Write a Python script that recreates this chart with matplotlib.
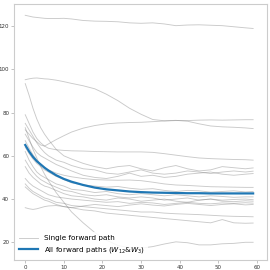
import numpy as np
import matplotlib
matplotlib.use("Agg")
import matplotlib.pyplot as plt

steps = [0, 1, 2, 3, 4, 5, 6, 8, 10, 12, 15, 18, 21, 24, 27, 30, 33, 36, 39, 42, 45, 48, 51, 54, 57, 59]

single_paths = [
    [125, 124.6, 124.2, 124, 123.8, 123.6, 123.5, 123.5, 123.6, 123.3, 122.6, 122.3, 122.2, 122, 121.5, 121.3, 121.5, 121, 120.2, 120.5, 120.6, 120.4, 120.2, 119.7, 119.2, 118.9],
    [95.2, 95.6, 95.9, 96, 95.8, 95.6, 95.5, 95, 94.3, 93.5, 92.4, 91, 88.5, 85.5, 82, 79.2, 76.8, 76.2, 76.4, 76, 74.8, 73.8, 73.4, 73.2, 72.9, 72.6],
    [72, 70, 68, 66.5, 65, 64.5, 65.5, 67.5, 69.3, 71, 72.8, 74, 74.8, 75.2, 75.4, 75.5, 75.8, 76.1, 76.3, 76.3, 76.5, 76.6, 76.5, 76.6, 76.7, 76.7],
    [93.4, 88, 82, 77, 73, 70, 67.5, 63, 60, 58.5, 56.5, 55, 54, 55, 55.5, 54, 53, 54.5, 55.5, 54, 53, 53.5, 55, 54.5, 54, 54.4],
    [79, 75, 71, 68, 66, 64.5, 63.5, 62.8, 62.5, 62.3, 62.2, 62, 61.9, 61.8, 61.8, 61.8, 61.6, 61, 60.3, 59.6, 59, 58.7, 58.5, 58.3, 58.2, 58],
    [75, 72, 69, 66, 63.5, 61.5, 60, 58, 57, 55.5, 54, 53.5, 52, 51.5, 52.5, 53.5, 52, 51.5, 52, 53, 52.5, 51.8, 52.5, 53, 52.5, 52.9],
    [70, 67, 64, 61.5, 60, 59, 58, 56, 54.5, 53, 51, 50, 49.5, 50.5, 52, 50.5, 51, 50, 50.5, 51.5, 52, 52.5, 51.5, 51, 51.5, 51.8],
    [67, 63.5, 60.5, 58, 56, 54.5, 53.5, 52, 51, 50.3, 49.5, 49, 48.8, 48.7, 48.8, 48.5, 47.8, 47, 46.5, 46.3, 46, 45.7, 45.6, 45.5, 45.4, 45.4],
    [64, 61, 58.5, 56.5, 55, 53.5, 52.5, 50.5, 49, 47.5, 46.5, 46, 45.5, 45.8, 45, 44.5, 44.8, 44, 43.5, 44, 43.8, 43.2, 43.5, 43.8, 43.3, 43.5],
    [62, 58, 55, 52.5, 51, 50, 49, 47, 46, 44.5, 44, 43, 43.5, 42.5, 42, 42.5, 42, 41.5, 42, 41.5, 41, 41.5, 41.2, 40.8, 41, 41],
    [58, 55, 52.5, 50.5, 49, 48, 47, 45.5, 44, 43.5, 42, 41.5, 42, 41, 40.5, 41, 40.5, 39.5, 40, 40.5, 39.5, 40, 39.5, 39.8, 40, 39.7],
    [55, 52, 50, 48.5, 47, 46, 45.5, 44, 42.5, 41.5, 41, 40, 39.5, 40.5, 40, 39, 39.5, 40, 39, 38.5, 39.5, 40, 39, 38.8, 39.2, 39],
    [49.5, 47.5, 46, 45, 44, 43, 42, 41, 40.5, 40, 39.5, 39, 38.5, 38.8, 38, 38.5, 38.2, 37.5, 38, 38.5, 38, 37.8, 38.2, 38, 38.3, 38.1],
    [47, 45, 43.5, 42.5, 41.5, 40.5, 40, 38.5, 38, 37, 36.5, 36, 35.5, 35, 34.5, 34, 34, 33.5, 33.2, 33, 32.8, 32.5, 32.2, 32, 31.9, 31.8],
    [45.6, 44, 42.5, 41.5, 40.5, 39.5, 39, 37.5, 36.5, 36, 35, 34.5, 33.5, 33, 32.5, 32, 31.5, 31, 30.5, 30, 29.5, 29, 30.5, 29, 28.8, 28.9],
    [36, 35.5, 35.2, 35.5, 36, 36.5, 36.8, 37, 36.5, 36, 36.8, 37.5, 37, 36.5, 37.2, 37.8, 37.2, 36.8, 37.5, 38, 37.5, 37, 37.5, 37.8, 37.3, 37.5],
    [73, 68, 63, 59, 55, 51.5, 48.5, 43, 38.5, 34, 29, 24.5, 21, 18.5, 17.5, 17.3, 18, 19.2, 20.2, 19.8, 18.8, 18.8, 19.3, 19.5, 20, 20],
]

all_paths = [65, 62, 59.5, 57.5, 56, 54.5, 53.2, 51, 49.3, 48, 46.5, 45.3, 44.5, 44, 43.5, 43.2, 43, 42.9, 42.8, 42.7, 42.7, 42.6, 42.6, 42.6, 42.6, 42.6]

fig = plt.figure(figsize=(2.7, 2.7), dpi=100)
ax = fig.add_axes([0.052, 0.037, 0.937, 0.948])

for i, vals in enumerate(single_paths):
    ax.plot(steps, vals, color="gray", alpha=0.42, linewidth=0.65,
            label="Single forward path" if i == 0 else None)
ax.plot(steps, all_paths, color="#1f77b4", linewidth=1.6,
        label=r"All forward paths ($W_{12}$&$W_3$)")

ax.set_xlim(-2.9, 62.6)
ax.set_ylim(11.8, 130.2)
ax.set_xticks([0, 10, 20, 30, 40, 50, 60])
ax.set_yticks([20, 40, 60, 80, 100, 120])
ax.tick_params(labelsize=4, length=2, width=0.5, color="#aaaaaa", pad=1.5, labelcolor="#333333")
for s in ax.spines.values():
    s.set_color("#cccccc")
    s.set_linewidth(0.8)

leg = ax.legend(loc="lower left", fontsize=5.2, frameon=True, framealpha=0.85,
                edgecolor="none", handlelength=2.6, borderaxespad=0.3)

fig.savefig("out.png", dpi=100)
